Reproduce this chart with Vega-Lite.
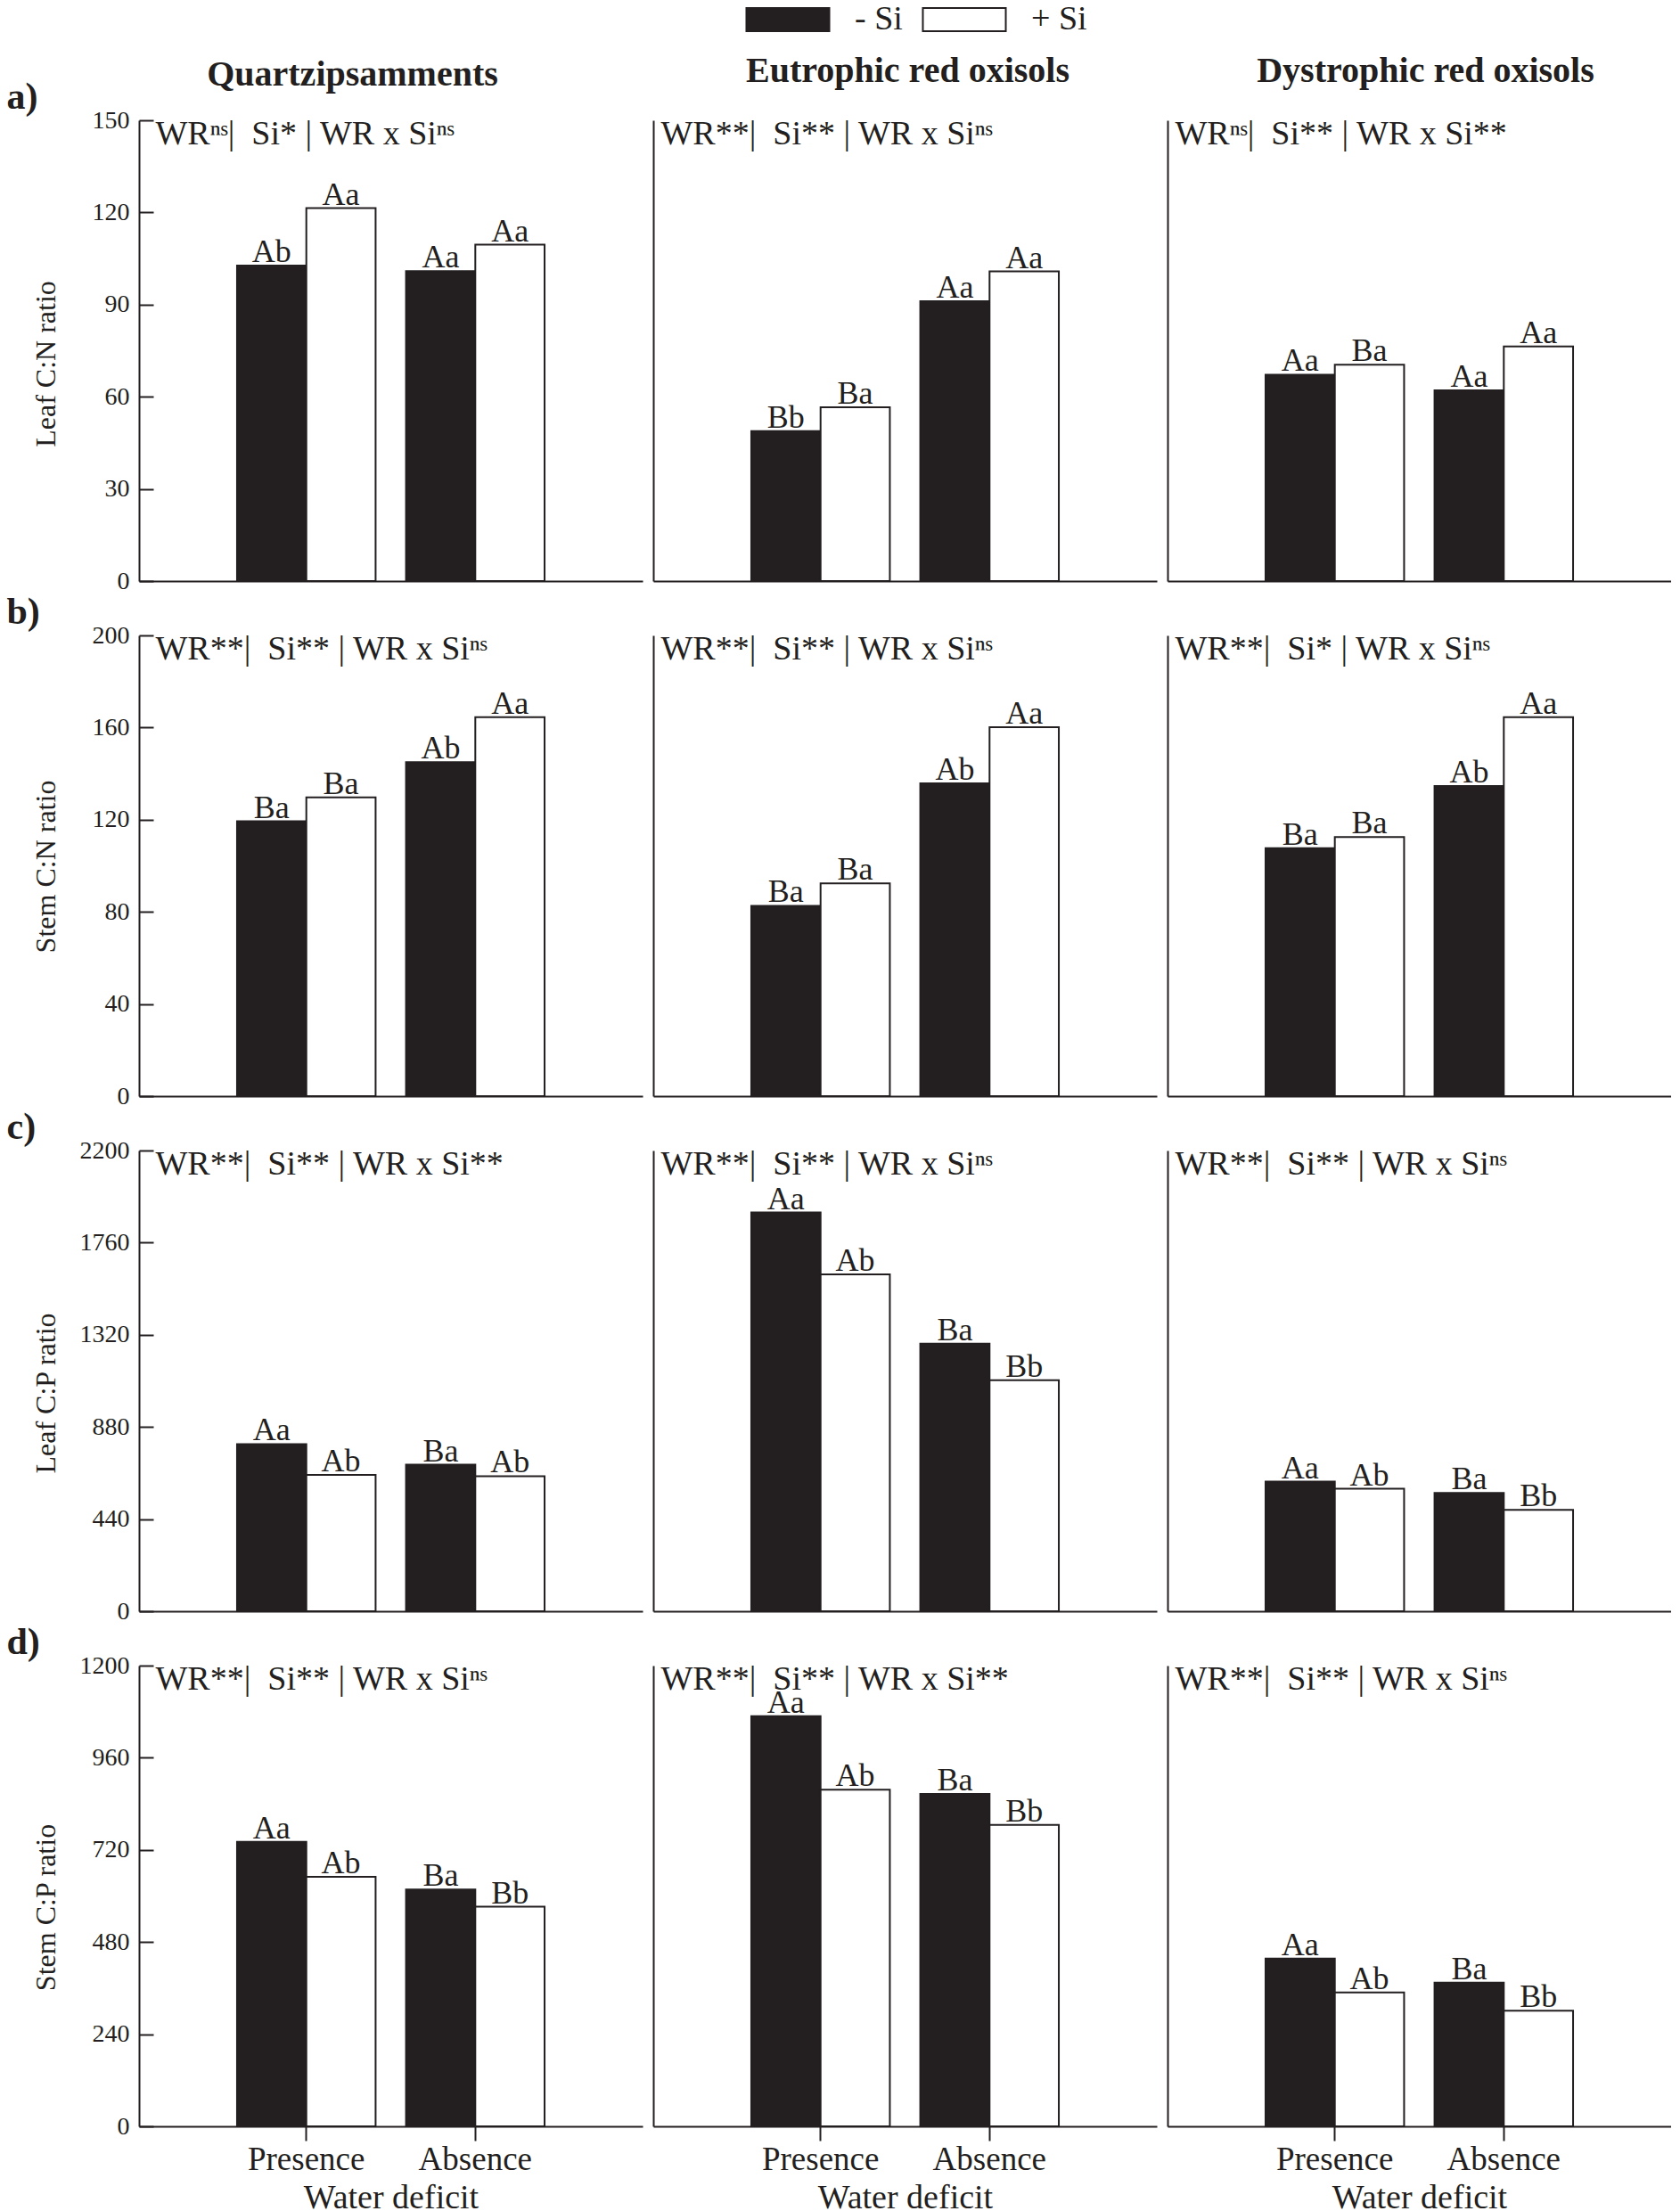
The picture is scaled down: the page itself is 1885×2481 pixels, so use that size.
{
  "$schema": "https://vega.github.io/schema/vega-lite/v6.json",
  "background": "white",
  "padding": {"left": 7, "top": 3, "right": 0, "bottom": 0},
  "datasets": {
    "main": [
      {"row": "a", "soil": "Q", "wd": "Presence", "si": "- Si", "value": 102.7, "letter": "Ab"},
      {"row": "a", "soil": "Q", "wd": "Presence", "si": "+ Si", "value": 121.4, "letter": "Aa"},
      {"row": "a", "soil": "Q", "wd": "Absence", "si": "- Si", "value": 100.9, "letter": "Aa"},
      {"row": "a", "soil": "Q", "wd": "Absence", "si": "+ Si", "value": 109.5, "letter": "Aa"},
      {"row": "a", "soil": "E", "wd": "Presence", "si": "- Si", "value": 48.8, "letter": "Bb"},
      {"row": "a", "soil": "E", "wd": "Presence", "si": "+ Si", "value": 56.6, "letter": "Ba"},
      {"row": "a", "soil": "E", "wd": "Absence", "si": "- Si", "value": 91.1, "letter": "Aa"},
      {"row": "a", "soil": "E", "wd": "Absence", "si": "+ Si", "value": 100.8, "letter": "Aa"},
      {"row": "a", "soil": "D", "wd": "Presence", "si": "- Si", "value": 67.2, "letter": "Aa"},
      {"row": "a", "soil": "D", "wd": "Presence", "si": "+ Si", "value": 70.4, "letter": "Ba"},
      {"row": "a", "soil": "D", "wd": "Absence", "si": "- Si", "value": 62.1, "letter": "Aa"},
      {"row": "a", "soil": "D", "wd": "Absence", "si": "+ Si", "value": 76.4, "letter": "Aa"},
      {"row": "b", "soil": "Q", "wd": "Presence", "si": "- Si", "value": 119.3, "letter": "Ba"},
      {"row": "b", "soil": "Q", "wd": "Presence", "si": "+ Si", "value": 129.7, "letter": "Ba"},
      {"row": "b", "soil": "Q", "wd": "Absence", "si": "- Si", "value": 145.0, "letter": "Ab"},
      {"row": "b", "soil": "Q", "wd": "Absence", "si": "+ Si", "value": 164.5, "letter": "Aa"},
      {"row": "b", "soil": "E", "wd": "Presence", "si": "- Si", "value": 82.6, "letter": "Ba"},
      {"row": "b", "soil": "E", "wd": "Presence", "si": "+ Si", "value": 92.4, "letter": "Ba"},
      {"row": "b", "soil": "E", "wd": "Absence", "si": "- Si", "value": 135.8, "letter": "Ab"},
      {"row": "b", "soil": "E", "wd": "Absence", "si": "+ Si", "value": 160.2, "letter": "Aa"},
      {"row": "b", "soil": "D", "wd": "Presence", "si": "- Si", "value": 107.6, "letter": "Ba"},
      {"row": "b", "soil": "D", "wd": "Presence", "si": "+ Si", "value": 112.5, "letter": "Ba"},
      {"row": "b", "soil": "D", "wd": "Absence", "si": "- Si", "value": 134.6, "letter": "Ab"},
      {"row": "b", "soil": "D", "wd": "Absence", "si": "+ Si", "value": 164.5, "letter": "Aa"},
      {"row": "c", "soil": "Q", "wd": "Presence", "si": "- Si", "value": 798, "letter": "Aa"},
      {"row": "c", "soil": "Q", "wd": "Presence", "si": "+ Si", "value": 651, "letter": "Ab"},
      {"row": "c", "soil": "Q", "wd": "Absence", "si": "- Si", "value": 700, "letter": "Ba"},
      {"row": "c", "soil": "Q", "wd": "Absence", "si": "+ Si", "value": 645, "letter": "Ab"},
      {"row": "c", "soil": "E", "wd": "Presence", "si": "- Si", "value": 1904, "letter": "Aa"},
      {"row": "c", "soil": "E", "wd": "Presence", "si": "+ Si", "value": 1608, "letter": "Ab"},
      {"row": "c", "soil": "E", "wd": "Absence", "si": "- Si", "value": 1278, "letter": "Ba"},
      {"row": "c", "soil": "E", "wd": "Absence", "si": "+ Si", "value": 1103, "letter": "Bb"},
      {"row": "c", "soil": "D", "wd": "Presence", "si": "- Si", "value": 619, "letter": "Aa"},
      {"row": "c", "soil": "D", "wd": "Presence", "si": "+ Si", "value": 585, "letter": "Ab"},
      {"row": "c", "soil": "D", "wd": "Absence", "si": "- Si", "value": 565, "letter": "Ba"},
      {"row": "c", "soil": "D", "wd": "Absence", "si": "+ Si", "value": 484, "letter": "Bb"},
      {"row": "d", "soil": "Q", "wd": "Presence", "si": "- Si", "value": 741, "letter": "Aa"},
      {"row": "d", "soil": "Q", "wd": "Presence", "si": "+ Si", "value": 650, "letter": "Ab"},
      {"row": "d", "soil": "Q", "wd": "Absence", "si": "- Si", "value": 617, "letter": "Ba"},
      {"row": "d", "soil": "Q", "wd": "Absence", "si": "+ Si", "value": 572, "letter": "Bb"},
      {"row": "d", "soil": "E", "wd": "Presence", "si": "- Si", "value": 1068, "letter": "Aa"},
      {"row": "d", "soil": "E", "wd": "Presence", "si": "+ Si", "value": 877, "letter": "Ab"},
      {"row": "d", "soil": "E", "wd": "Absence", "si": "- Si", "value": 866, "letter": "Ba"},
      {"row": "d", "soil": "E", "wd": "Absence", "si": "+ Si", "value": 785, "letter": "Bb"},
      {"row": "d", "soil": "D", "wd": "Presence", "si": "- Si", "value": 437, "letter": "Aa"},
      {"row": "d", "soil": "D", "wd": "Presence", "si": "+ Si", "value": 349, "letter": "Ab"},
      {"row": "d", "soil": "D", "wd": "Absence", "si": "- Si", "value": 374, "letter": "Ba"},
      {"row": "d", "soil": "D", "wd": "Absence", "si": "+ Si", "value": 301, "letter": "Bb"}
    ]
  },
  "config": {
    "font": "Liberation Serif",
    "view": {"stroke": null},
    "axis": {"domainColor": "#231f20", "domainWidth": 2, "tickColor": "#231f20", "tickWidth": 2, "labelColor": "#231f20", "titleColor": "#231f20", "labelFont": "Liberation Serif", "titleFont": "Liberation Serif", "titleFontWeight": "normal", "grid": false},
    "title": {"font": "Liberation Serif", "color": "#231f20", "fontSize": 40, "fontWeight": "bold"}
  },
  "vconcat": [
    {"spacing": 12, "hconcat": [
      {"width": 565, "height": 517, "data": {"name": "main"}, "transform": [{"filter": "datum.row == 'a' && datum.soil == 'Q'"}],
       "title": {"text": "Quartzipsamments", "anchor": "middle", "frame": "group", "offset": -17, "dx": -43},
       "resolve": {"axis": {"x": "independent", "y": "independent"}},
       "layer": [
        {"mark": {"type": "bar", "stroke": "#231f20", "strokeWidth": 2},
         "encoding": {
          "x": {"field": "wd", "type": "nominal", "sort": ["Presence", "Absence"], "scale": {"paddingInner": 0.18, "paddingOuter": 0.58}, "axis": {"orient": "bottom", "title": null, "labels": false, "ticks": false, "domain": true}},
          "xOffset": {"field": "si", "type": "nominal", "sort": ["- Si", "+ Si"], "scale": {"paddingInner": 0, "paddingOuter": 0}},
          "y": {"field": "value", "type": "quantitative", "scale": {"domain": [0, 150], "nice": false}, "axis": {"orient": "left", "values": [0, 30, 60, 90, 120, 150], "format": "d", "tickSize": -16, "labelPadding": 27, "labelFontSize": 28, "title": "Leaf C:N ratio", "titleFontSize": 32, "titleX": -105, "titleY": 273, "titleBaseline": "middle"}},
          "fill": {"field": "si", "type": "nominal", "scale": {"domain": ["- Si", "+ Si"], "range": ["#231f20", "#ffffff"]},
                   "legend": {"orient": "none", "legendX": 709, "legendY": -132, "direction": "horizontal", "title": null, "symbolType": "M-4,-1.12H4V1.12H-4Z", "symbolSize": 541, "symbolStrokeColor": "#231f20", "symbolStrokeWidth": 2, "labelFontSize": 38, "labelFont": "Liberation Serif", "labelColor": "#231f20", "labelOffset": 56, "columnPadding": 18, "padding": 0, "labelLimit": 300}}
         }},
        {"mark": {"type": "text", "baseline": "alphabetic", "dy": -4, "fontSize": 36, "font": "Liberation Serif", "color": "#231f20"},
         "encoding": {
          "x": {"field": "wd", "type": "nominal", "sort": ["Presence", "Absence"], "axis": {"orient": "top", "title": "WRⁿˢ|\u00a0 Si* | WR x Siⁿˢ", "titleX": 18, "titleY": 26, "titleAlign": "left", "titleAnchor": "start", "titleBaseline": "alphabetic", "titleFontSize": 38, "labels": false, "ticks": false, "domain": false}},
          "xOffset": {"field": "si", "type": "nominal", "sort": ["- Si", "+ Si"]},
          "y": {"field": "value", "type": "quantitative", "axis": {"orient": "left", "title": "a)", "titleX": -149, "titleY": -27, "titleAngle": 0, "titleAlign": "left", "titleBaseline": "middle", "titleFontSize": 42, "titleFontWeight": "bold", "labels": false, "ticks": false, "domain": false}},
          "text": {"field": "letter", "type": "nominal"}
         }}
       ]},
      {"width": 565, "height": 517, "data": {"name": "main"}, "transform": [{"filter": "datum.row == 'a' && datum.soil == 'E'"}],
       "title": {"text": "Eutrophic red oxisols", "anchor": "middle", "frame": "group", "offset": 31, "dx": 3},
       "resolve": {"axis": {"x": "independent", "y": "independent"}},
       "layer": [
        {"mark": {"type": "bar", "stroke": "#231f20", "strokeWidth": 2},
         "encoding": {
          "x": {"field": "wd", "type": "nominal", "sort": ["Presence", "Absence"], "scale": {"paddingInner": 0.18, "paddingOuter": 0.58}, "axis": {"orient": "bottom", "title": null, "labels": false, "ticks": false, "domain": true}},
          "xOffset": {"field": "si", "type": "nominal", "sort": ["- Si", "+ Si"], "scale": {"paddingInner": 0, "paddingOuter": 0}},
          "y": {"field": "value", "type": "quantitative", "scale": {"domain": [0, 150], "nice": false}, "axis": {"orient": "left", "title": null, "labels": false, "ticks": false, "domain": true}},
          "fill": {"field": "si", "type": "nominal", "scale": {"domain": ["- Si", "+ Si"], "range": ["#231f20", "#ffffff"]}, "legend": null}
         }},
        {"mark": {"type": "text", "baseline": "alphabetic", "dy": -4, "fontSize": 36, "font": "Liberation Serif", "color": "#231f20"},
         "encoding": {
          "x": {"field": "wd", "type": "nominal", "sort": ["Presence", "Absence"], "axis": {"orient": "top", "title": "WR**|\u00a0 Si** | WR x Siⁿˢ", "titleX": 8, "titleY": 26, "titleAlign": "left", "titleAnchor": "start", "titleBaseline": "alphabetic", "titleFontSize": 38, "labels": false, "ticks": false, "domain": false}},
          "xOffset": {"field": "si", "type": "nominal", "sort": ["- Si", "+ Si"]},
          "y": {"field": "value", "type": "quantitative", "axis": null},
          "text": {"field": "letter", "type": "nominal"}
         }}
       ]},
      {"width": 565, "height": 517, "data": {"name": "main"}, "transform": [{"filter": "datum.row == 'a' && datum.soil == 'D'"}],
       "title": {"text": "Dystrophic red oxisols", "anchor": "middle", "frame": "group", "offset": 31, "dx": 7},
       "resolve": {"axis": {"x": "independent", "y": "independent"}},
       "layer": [
        {"mark": {"type": "bar", "stroke": "#231f20", "strokeWidth": 2},
         "encoding": {
          "x": {"field": "wd", "type": "nominal", "sort": ["Presence", "Absence"], "scale": {"paddingInner": 0.18, "paddingOuter": 0.58}, "axis": {"orient": "bottom", "title": null, "labels": false, "ticks": false, "domain": true}},
          "xOffset": {"field": "si", "type": "nominal", "sort": ["- Si", "+ Si"], "scale": {"paddingInner": 0, "paddingOuter": 0}},
          "y": {"field": "value", "type": "quantitative", "scale": {"domain": [0, 150], "nice": false}, "axis": {"orient": "left", "title": null, "labels": false, "ticks": false, "domain": true}},
          "fill": {"field": "si", "type": "nominal", "scale": {"domain": ["- Si", "+ Si"], "range": ["#231f20", "#ffffff"]}, "legend": null}
         }},
        {"mark": {"type": "text", "baseline": "alphabetic", "dy": -4, "fontSize": 36, "font": "Liberation Serif", "color": "#231f20"},
         "encoding": {
          "x": {"field": "wd", "type": "nominal", "sort": ["Presence", "Absence"], "axis": {"orient": "top", "title": "WRⁿˢ|\u00a0 Si** | WR x Si**", "titleX": 8, "titleY": 26, "titleAlign": "left", "titleAnchor": "start", "titleBaseline": "alphabetic", "titleFontSize": 38, "labels": false, "ticks": false, "domain": false}},
          "xOffset": {"field": "si", "type": "nominal", "sort": ["- Si", "+ Si"]},
          "y": {"field": "value", "type": "quantitative", "axis": null},
          "text": {"field": "letter", "type": "nominal"}
         }}
       ]}
    ]},
    {"spacing": 12, "hconcat": [
      {"width": 565, "height": 517, "data": {"name": "main"}, "transform": [{"filter": "datum.row == 'b' && datum.soil == 'Q'"}],
       "resolve": {"axis": {"x": "independent", "y": "independent"}},
       "layer": [
        {"mark": {"type": "bar", "stroke": "#231f20", "strokeWidth": 2},
         "encoding": {
          "x": {"field": "wd", "type": "nominal", "sort": ["Presence", "Absence"], "scale": {"paddingInner": 0.18, "paddingOuter": 0.58}, "axis": {"orient": "bottom", "title": null, "labels": false, "ticks": false, "domain": true}},
          "xOffset": {"field": "si", "type": "nominal", "sort": ["- Si", "+ Si"], "scale": {"paddingInner": 0, "paddingOuter": 0}},
          "y": {"field": "value", "type": "quantitative", "scale": {"domain": [0, 200], "nice": false}, "axis": {"orient": "left", "values": [0, 40, 80, 120, 160, 200], "format": "d", "tickSize": -16, "labelPadding": 27, "labelFontSize": 28, "title": "Stem C:N ratio", "titleFontSize": 32, "titleX": -105, "titleY": 259, "titleBaseline": "middle"}},
          "fill": {"field": "si", "type": "nominal", "scale": {"domain": ["- Si", "+ Si"], "range": ["#231f20", "#ffffff"]}, "legend": null}
         }},
        {"mark": {"type": "text", "baseline": "alphabetic", "dy": -4, "fontSize": 36, "font": "Liberation Serif", "color": "#231f20"},
         "encoding": {
          "x": {"field": "wd", "type": "nominal", "sort": ["Presence", "Absence"], "axis": {"orient": "top", "title": "WR**|\u00a0 Si** | WR x Siⁿˢ", "titleX": 18, "titleY": 26, "titleAlign": "left", "titleAnchor": "start", "titleBaseline": "alphabetic", "titleFontSize": 38, "labels": false, "ticks": false, "domain": false}},
          "xOffset": {"field": "si", "type": "nominal", "sort": ["- Si", "+ Si"]},
          "y": {"field": "value", "type": "quantitative", "axis": {"orient": "left", "title": "b)", "titleX": -149, "titleY": -27, "titleAngle": 0, "titleAlign": "left", "titleBaseline": "middle", "titleFontSize": 42, "titleFontWeight": "bold", "labels": false, "ticks": false, "domain": false}},
          "text": {"field": "letter", "type": "nominal"}
         }}
       ]},
      {"width": 565, "height": 517, "data": {"name": "main"}, "transform": [{"filter": "datum.row == 'b' && datum.soil == 'E'"}],
       "resolve": {"axis": {"x": "independent", "y": "independent"}},
       "layer": [
        {"mark": {"type": "bar", "stroke": "#231f20", "strokeWidth": 2},
         "encoding": {
          "x": {"field": "wd", "type": "nominal", "sort": ["Presence", "Absence"], "scale": {"paddingInner": 0.18, "paddingOuter": 0.58}, "axis": {"orient": "bottom", "title": null, "labels": false, "ticks": false, "domain": true}},
          "xOffset": {"field": "si", "type": "nominal", "sort": ["- Si", "+ Si"], "scale": {"paddingInner": 0, "paddingOuter": 0}},
          "y": {"field": "value", "type": "quantitative", "scale": {"domain": [0, 200], "nice": false}, "axis": {"orient": "left", "title": null, "labels": false, "ticks": false, "domain": true}},
          "fill": {"field": "si", "type": "nominal", "scale": {"domain": ["- Si", "+ Si"], "range": ["#231f20", "#ffffff"]}, "legend": null}
         }},
        {"mark": {"type": "text", "baseline": "alphabetic", "dy": -4, "fontSize": 36, "font": "Liberation Serif", "color": "#231f20"},
         "encoding": {
          "x": {"field": "wd", "type": "nominal", "sort": ["Presence", "Absence"], "axis": {"orient": "top", "title": "WR**|\u00a0 Si** | WR x Siⁿˢ", "titleX": 8, "titleY": 26, "titleAlign": "left", "titleAnchor": "start", "titleBaseline": "alphabetic", "titleFontSize": 38, "labels": false, "ticks": false, "domain": false}},
          "xOffset": {"field": "si", "type": "nominal", "sort": ["- Si", "+ Si"]},
          "y": {"field": "value", "type": "quantitative", "axis": null},
          "text": {"field": "letter", "type": "nominal"}
         }}
       ]},
      {"width": 565, "height": 517, "data": {"name": "main"}, "transform": [{"filter": "datum.row == 'b' && datum.soil == 'D'"}],
       "resolve": {"axis": {"x": "independent", "y": "independent"}},
       "layer": [
        {"mark": {"type": "bar", "stroke": "#231f20", "strokeWidth": 2},
         "encoding": {
          "x": {"field": "wd", "type": "nominal", "sort": ["Presence", "Absence"], "scale": {"paddingInner": 0.18, "paddingOuter": 0.58}, "axis": {"orient": "bottom", "title": null, "labels": false, "ticks": false, "domain": true}},
          "xOffset": {"field": "si", "type": "nominal", "sort": ["- Si", "+ Si"], "scale": {"paddingInner": 0, "paddingOuter": 0}},
          "y": {"field": "value", "type": "quantitative", "scale": {"domain": [0, 200], "nice": false}, "axis": {"orient": "left", "title": null, "labels": false, "ticks": false, "domain": true}},
          "fill": {"field": "si", "type": "nominal", "scale": {"domain": ["- Si", "+ Si"], "range": ["#231f20", "#ffffff"]}, "legend": null}
         }},
        {"mark": {"type": "text", "baseline": "alphabetic", "dy": -4, "fontSize": 36, "font": "Liberation Serif", "color": "#231f20"},
         "encoding": {
          "x": {"field": "wd", "type": "nominal", "sort": ["Presence", "Absence"], "axis": {"orient": "top", "title": "WR**|\u00a0 Si* | WR x Siⁿˢ", "titleX": 8, "titleY": 26, "titleAlign": "left", "titleAnchor": "start", "titleBaseline": "alphabetic", "titleFontSize": 38, "labels": false, "ticks": false, "domain": false}},
          "xOffset": {"field": "si", "type": "nominal", "sort": ["- Si", "+ Si"]},
          "y": {"field": "value", "type": "quantitative", "axis": null},
          "text": {"field": "letter", "type": "nominal"}
         }}
       ]}
    ]},
    {"spacing": 12, "hconcat": [
      {"width": 565, "height": 517, "data": {"name": "main"}, "transform": [{"filter": "datum.row == 'c' && datum.soil == 'Q'"}],
       "resolve": {"axis": {"x": "independent", "y": "independent"}},
       "layer": [
        {"mark": {"type": "bar", "stroke": "#231f20", "strokeWidth": 2},
         "encoding": {
          "x": {"field": "wd", "type": "nominal", "sort": ["Presence", "Absence"], "scale": {"paddingInner": 0.18, "paddingOuter": 0.58}, "axis": {"orient": "bottom", "title": null, "labels": false, "ticks": false, "domain": true}},
          "xOffset": {"field": "si", "type": "nominal", "sort": ["- Si", "+ Si"], "scale": {"paddingInner": 0, "paddingOuter": 0}},
          "y": {"field": "value", "type": "quantitative", "scale": {"domain": [0, 2200], "nice": false}, "axis": {"orient": "left", "values": [0, 440, 880, 1320, 1760, 2200], "format": "d", "tickSize": -16, "labelPadding": 27, "labelFontSize": 28, "title": "Leaf C:P ratio", "titleFontSize": 32, "titleX": -105, "titleY": 272, "titleBaseline": "middle"}},
          "fill": {"field": "si", "type": "nominal", "scale": {"domain": ["- Si", "+ Si"], "range": ["#231f20", "#ffffff"]}, "legend": null}
         }},
        {"mark": {"type": "text", "baseline": "alphabetic", "dy": -4, "fontSize": 36, "font": "Liberation Serif", "color": "#231f20"},
         "encoding": {
          "x": {"field": "wd", "type": "nominal", "sort": ["Presence", "Absence"], "axis": {"orient": "top", "title": "WR**|\u00a0 Si** | WR x Si**", "titleX": 18, "titleY": 26, "titleAlign": "left", "titleAnchor": "start", "titleBaseline": "alphabetic", "titleFontSize": 38, "labels": false, "ticks": false, "domain": false}},
          "xOffset": {"field": "si", "type": "nominal", "sort": ["- Si", "+ Si"]},
          "y": {"field": "value", "type": "quantitative", "axis": {"orient": "left", "title": "c)", "titleX": -149, "titleY": -27, "titleAngle": 0, "titleAlign": "left", "titleBaseline": "middle", "titleFontSize": 42, "titleFontWeight": "bold", "labels": false, "ticks": false, "domain": false}},
          "text": {"field": "letter", "type": "nominal"}
         }}
       ]},
      {"width": 565, "height": 517, "data": {"name": "main"}, "transform": [{"filter": "datum.row == 'c' && datum.soil == 'E'"}],
       "resolve": {"axis": {"x": "independent", "y": "independent"}},
       "layer": [
        {"mark": {"type": "bar", "stroke": "#231f20", "strokeWidth": 2},
         "encoding": {
          "x": {"field": "wd", "type": "nominal", "sort": ["Presence", "Absence"], "scale": {"paddingInner": 0.18, "paddingOuter": 0.58}, "axis": {"orient": "bottom", "title": null, "labels": false, "ticks": false, "domain": true}},
          "xOffset": {"field": "si", "type": "nominal", "sort": ["- Si", "+ Si"], "scale": {"paddingInner": 0, "paddingOuter": 0}},
          "y": {"field": "value", "type": "quantitative", "scale": {"domain": [0, 2200], "nice": false}, "axis": {"orient": "left", "title": null, "labels": false, "ticks": false, "domain": true}},
          "fill": {"field": "si", "type": "nominal", "scale": {"domain": ["- Si", "+ Si"], "range": ["#231f20", "#ffffff"]}, "legend": null}
         }},
        {"mark": {"type": "text", "baseline": "alphabetic", "dy": -4, "fontSize": 36, "font": "Liberation Serif", "color": "#231f20"},
         "encoding": {
          "x": {"field": "wd", "type": "nominal", "sort": ["Presence", "Absence"], "axis": {"orient": "top", "title": "WR**|\u00a0 Si** | WR x Siⁿˢ", "titleX": 8, "titleY": 26, "titleAlign": "left", "titleAnchor": "start", "titleBaseline": "alphabetic", "titleFontSize": 38, "labels": false, "ticks": false, "domain": false}},
          "xOffset": {"field": "si", "type": "nominal", "sort": ["- Si", "+ Si"]},
          "y": {"field": "value", "type": "quantitative", "axis": null},
          "text": {"field": "letter", "type": "nominal"}
         }}
       ]},
      {"width": 565, "height": 517, "data": {"name": "main"}, "transform": [{"filter": "datum.row == 'c' && datum.soil == 'D'"}],
       "resolve": {"axis": {"x": "independent", "y": "independent"}},
       "layer": [
        {"mark": {"type": "bar", "stroke": "#231f20", "strokeWidth": 2},
         "encoding": {
          "x": {"field": "wd", "type": "nominal", "sort": ["Presence", "Absence"], "scale": {"paddingInner": 0.18, "paddingOuter": 0.58}, "axis": {"orient": "bottom", "title": null, "labels": false, "ticks": false, "domain": true}},
          "xOffset": {"field": "si", "type": "nominal", "sort": ["- Si", "+ Si"], "scale": {"paddingInner": 0, "paddingOuter": 0}},
          "y": {"field": "value", "type": "quantitative", "scale": {"domain": [0, 2200], "nice": false}, "axis": {"orient": "left", "title": null, "labels": false, "ticks": false, "domain": true}},
          "fill": {"field": "si", "type": "nominal", "scale": {"domain": ["- Si", "+ Si"], "range": ["#231f20", "#ffffff"]}, "legend": null}
         }},
        {"mark": {"type": "text", "baseline": "alphabetic", "dy": -4, "fontSize": 36, "font": "Liberation Serif", "color": "#231f20"},
         "encoding": {
          "x": {"field": "wd", "type": "nominal", "sort": ["Presence", "Absence"], "axis": {"orient": "top", "title": "WR**|\u00a0 Si** | WR x Siⁿˢ", "titleX": 8, "titleY": 26, "titleAlign": "left", "titleAnchor": "start", "titleBaseline": "alphabetic", "titleFontSize": 38, "labels": false, "ticks": false, "domain": false}},
          "xOffset": {"field": "si", "type": "nominal", "sort": ["- Si", "+ Si"]},
          "y": {"field": "value", "type": "quantitative", "axis": null},
          "text": {"field": "letter", "type": "nominal"}
         }}
       ]}
    ]},
    {"spacing": 12, "hconcat": [
      {"width": 565, "height": 517, "data": {"name": "main"}, "transform": [{"filter": "datum.row == 'd' && datum.soil == 'Q'"}],
       "resolve": {"axis": {"x": "independent", "y": "independent"}},
       "layer": [
        {"mark": {"type": "bar", "stroke": "#231f20", "strokeWidth": 2},
         "encoding": {
          "x": {"field": "wd", "type": "nominal", "sort": ["Presence", "Absence"], "scale": {"paddingInner": 0.18, "paddingOuter": 0.58}, "axis": {"orient": "bottom", "title": "Water deficit", "labelAngle": 0, "tickSize": 16, "labelFontSize": 37, "labelPadding": 3, "titleFontSize": 38, "titlePadding": 6, "domain": true}},
          "xOffset": {"field": "si", "type": "nominal", "sort": ["- Si", "+ Si"], "scale": {"paddingInner": 0, "paddingOuter": 0}},
          "y": {"field": "value", "type": "quantitative", "scale": {"domain": [0, 1200], "nice": false}, "axis": {"orient": "left", "values": [0, 240, 480, 720, 960, 1200], "format": "d", "tickSize": -16, "labelPadding": 27, "labelFontSize": 28, "title": "Stem C:P ratio", "titleFontSize": 32, "titleX": -105, "titleY": 271, "titleBaseline": "middle"}},
          "fill": {"field": "si", "type": "nominal", "scale": {"domain": ["- Si", "+ Si"], "range": ["#231f20", "#ffffff"]}, "legend": null}
         }},
        {"mark": {"type": "text", "baseline": "alphabetic", "dy": -4, "fontSize": 36, "font": "Liberation Serif", "color": "#231f20"},
         "encoding": {
          "x": {"field": "wd", "type": "nominal", "sort": ["Presence", "Absence"], "axis": {"orient": "top", "title": "WR**|\u00a0 Si** | WR x Siⁿˢ", "titleX": 18, "titleY": 26, "titleAlign": "left", "titleAnchor": "start", "titleBaseline": "alphabetic", "titleFontSize": 38, "labels": false, "ticks": false, "domain": false}},
          "xOffset": {"field": "si", "type": "nominal", "sort": ["- Si", "+ Si"]},
          "y": {"field": "value", "type": "quantitative", "axis": {"orient": "left", "title": "d)", "titleX": -149, "titleY": -27, "titleAngle": 0, "titleAlign": "left", "titleBaseline": "middle", "titleFontSize": 42, "titleFontWeight": "bold", "labels": false, "ticks": false, "domain": false}},
          "text": {"field": "letter", "type": "nominal"}
         }}
       ]},
      {"width": 565, "height": 517, "data": {"name": "main"}, "transform": [{"filter": "datum.row == 'd' && datum.soil == 'E'"}],
       "resolve": {"axis": {"x": "independent", "y": "independent"}},
       "layer": [
        {"mark": {"type": "bar", "stroke": "#231f20", "strokeWidth": 2},
         "encoding": {
          "x": {"field": "wd", "type": "nominal", "sort": ["Presence", "Absence"], "scale": {"paddingInner": 0.18, "paddingOuter": 0.58}, "axis": {"orient": "bottom", "title": "Water deficit", "labelAngle": 0, "tickSize": 16, "labelFontSize": 37, "labelPadding": 3, "titleFontSize": 38, "titlePadding": 6, "domain": true}},
          "xOffset": {"field": "si", "type": "nominal", "sort": ["- Si", "+ Si"], "scale": {"paddingInner": 0, "paddingOuter": 0}},
          "y": {"field": "value", "type": "quantitative", "scale": {"domain": [0, 1200], "nice": false}, "axis": {"orient": "left", "title": null, "labels": false, "ticks": false, "domain": true}},
          "fill": {"field": "si", "type": "nominal", "scale": {"domain": ["- Si", "+ Si"], "range": ["#231f20", "#ffffff"]}, "legend": null}
         }},
        {"mark": {"type": "text", "baseline": "alphabetic", "dy": -4, "fontSize": 36, "font": "Liberation Serif", "color": "#231f20"},
         "encoding": {
          "x": {"field": "wd", "type": "nominal", "sort": ["Presence", "Absence"], "axis": {"orient": "top", "title": "WR**|\u00a0 Si** | WR x Si**", "titleX": 8, "titleY": 26, "titleAlign": "left", "titleAnchor": "start", "titleBaseline": "alphabetic", "titleFontSize": 38, "labels": false, "ticks": false, "domain": false}},
          "xOffset": {"field": "si", "type": "nominal", "sort": ["- Si", "+ Si"]},
          "y": {"field": "value", "type": "quantitative", "axis": null},
          "text": {"field": "letter", "type": "nominal"}
         }}
       ]},
      {"width": 565, "height": 517, "data": {"name": "main"}, "transform": [{"filter": "datum.row == 'd' && datum.soil == 'D'"}],
       "resolve": {"axis": {"x": "independent", "y": "independent"}},
       "layer": [
        {"mark": {"type": "bar", "stroke": "#231f20", "strokeWidth": 2},
         "encoding": {
          "x": {"field": "wd", "type": "nominal", "sort": ["Presence", "Absence"], "scale": {"paddingInner": 0.18, "paddingOuter": 0.58}, "axis": {"orient": "bottom", "title": "Water deficit", "labelAngle": 0, "tickSize": 16, "labelFontSize": 37, "labelPadding": 3, "titleFontSize": 38, "titlePadding": 6, "domain": true}},
          "xOffset": {"field": "si", "type": "nominal", "sort": ["- Si", "+ Si"], "scale": {"paddingInner": 0, "paddingOuter": 0}},
          "y": {"field": "value", "type": "quantitative", "scale": {"domain": [0, 1200], "nice": false}, "axis": {"orient": "left", "title": null, "labels": false, "ticks": false, "domain": true}},
          "fill": {"field": "si", "type": "nominal", "scale": {"domain": ["- Si", "+ Si"], "range": ["#231f20", "#ffffff"]}, "legend": null}
         }},
        {"mark": {"type": "text", "baseline": "alphabetic", "dy": -4, "fontSize": 36, "font": "Liberation Serif", "color": "#231f20"},
         "encoding": {
          "x": {"field": "wd", "type": "nominal", "sort": ["Presence", "Absence"], "axis": {"orient": "top", "title": "WR**|\u00a0 Si** | WR x Siⁿˢ", "titleX": 8, "titleY": 26, "titleAlign": "left", "titleAnchor": "start", "titleBaseline": "alphabetic", "titleFontSize": 38, "labels": false, "ticks": false, "domain": false}},
          "xOffset": {"field": "si", "type": "nominal", "sort": ["- Si", "+ Si"]},
          "y": {"field": "value", "type": "quantitative", "axis": null},
          "text": {"field": "letter", "type": "nominal"}
         }}
       ]}
    ]}
  ],
  "spacing": -1
}
